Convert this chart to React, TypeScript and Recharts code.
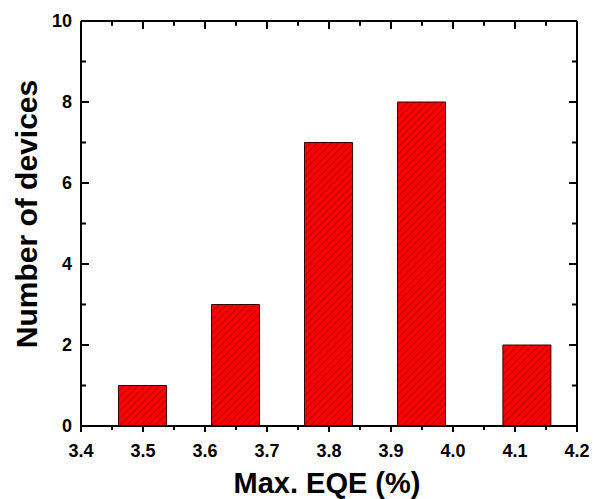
import { BarChart, Bar, XAxis, YAxis, ReferenceLine } from 'recharts';

const eqeValues = [3.5, 3.65, 3.8, 3.95, 4.12];
const deviceCounts = [1, 3, 7, 8, 2];

const xMajorTicks = [3.4, 3.5, 3.6, 3.7, 3.8, 3.9, 4.0, 4.1, 4.2];
const xMinorTicks = [3.45, 3.55, 3.65, 3.75, 3.85, 3.95, 4.05, 4.15];
const yMajorTicks = [0, 2, 4, 6, 8, 10];
const yMinorTicks = [1, 3, 5, 7, 9];

const data = eqeValues.map((eqe, i) => ({ eqe, count: deviceCounts[i] }));
const xTicks = [...xMajorTicks, ...xMinorTicks].sort((a, b) => a - b);
const yTicks = [...yMajorTicks, ...yMinorTicks].sort((a, b) => a - b);

const FONT = "'Liberation Sans', Arial, Helvetica, sans-serif";
const TICK_FONT = 18;

const WIDTH = 595;
const HEIGHT = 499;
const MARGIN = { top: 20, right: 17, bottom: 43, left: 41 };
const X_AXIS_H = 30;
const TOP_AXIS_H = 1;
const Y_MAX = 10;

function BottomTick(props: any) {
  const { x, y, payload } = props;
  const major = xMajorTicks.includes(payload.value);
  const yb = Number(y);
  return (
    <g>
      <line x1={x} x2={x} y1={yb} y2={yb + (major ? 6 : 4)} stroke="#000" strokeWidth={2} />
      {major && (
        <text x={x} y={yb + 31} textAnchor="middle" fontFamily={FONT} fontWeight="bold" fontSize={TICK_FONT} fill="#000">
          {payload.value.toFixed(1)}
        </text>
      )}
    </g>
  );
}

function LeftTick({ x, y, payload }: any) {
  const major = yMajorTicks.includes(payload.value);
  const xl = Number(x);
  return (
    <g>
      <line x1={xl} x2={xl + (major ? 8 : 5)} y1={y} y2={y} stroke="#000" strokeWidth={2} />
      {major && (
        <text x={xl - 9} y={y} dy="0.355em" textAnchor="end" fontFamily={FONT} fontWeight="bold" fontSize={TICK_FONT} fill="#000">
          {payload.value}
        </text>
      )}
    </g>
  );
}

function RightTick({ x, y, payload }: any) {
  const major = yMajorTicks.includes(payload.value);
  const xr = Number(x);
  return <line x1={xr} x2={xr - (major ? 8 : 5)} y1={y} y2={y} stroke="#000" strokeWidth={2} />;
}

const axisLine = { stroke: '#000', strokeWidth: 2 };

export default function App() {
  return (
    <div style={{ position: 'absolute', left: 0, top: 0, width: WIDTH, height: HEIGHT, overflow: 'hidden', background: '#fff', fontFamily: FONT }}>
      <BarChart width={WIDTH} height={HEIGHT} data={data} margin={MARGIN}>
        <defs>
          <pattern id="hatch" patternUnits="userSpaceOnUse" width="5" height="5" patternTransform="rotate(45)">
            <rect x="0" y="0" width="5" height="5" fill="#ff0000" />
            <line x1="0.5" y1="0" x2="0.5" y2="5" stroke="#b00000" strokeWidth="0.9" />
          </pattern>
        </defs>
        <XAxis
          xAxisId="bottom"
          dataKey="eqe"
          type="number"
          orientation="bottom"
          domain={[3.4, 4.2]}
          allowDataOverflow
          ticks={xTicks}
          interval={0}
          height={X_AXIS_H}
          tickSize={0}
          tickMargin={0}
          tickLine={false}
          axisLine={axisLine}
          tick={<BottomTick />}
        />
        <XAxis
          xAxisId="top"
          type="number"
          orientation="top"
          domain={[3.4, 4.2]}
          allowDataOverflow
          height={TOP_AXIS_H}
          tickLine={false}
          axisLine={axisLine}
          tick={false}
        />
        <YAxis
          yAxisId="left"
          type="number"
          orientation="left"
          domain={[0, Y_MAX]}
          allowDataOverflow
          ticks={yTicks}
          interval={0}
          width={40}
          tickSize={0}
          tickMargin={0}
          tickLine={false}
          axisLine={axisLine}
          tick={<LeftTick />}
        />
        <YAxis
          yAxisId="right"
          type="number"
          orientation="right"
          domain={[0, Y_MAX]}
          allowDataOverflow
          ticks={yTicks}
          interval={0}
          width={1}
          tickSize={0}
          tickMargin={0}
          tickLine={false}
          axisLine={axisLine}
          tick={<RightTick />}
        />
        <Bar
          xAxisId="bottom"
          yAxisId="left"
          dataKey="count"
          barSize={48}
          fill="url(#hatch)"
          stroke="#3a0000"
          strokeWidth={1}
          isAnimationActive={false}
        />
        {/* inward ticks on the top frame */}
        {xTicks.map((v) => (
          <ReferenceLine
            key={v}
            xAxisId="bottom"
            yAxisId="left"
            segment={[
              { x: v, y: Y_MAX },
              { x: v, y: Y_MAX - (xMajorTicks.includes(v) ? 0.2 : 0.12) },
            ]}
            stroke="#000"
            strokeWidth={2}
            ifOverflow="visible"
          />
        ))}
      </BarChart>
      <div
        style={{
          position: 'absolute',
          left: 27,
          top: 214,
          transform: 'translate(-50%, -50%) rotate(-90deg)',
          whiteSpace: 'nowrap',
          fontSize: 30,
          fontWeight: 'bold',
          lineHeight: '30px',
          color: '#000',
        }}
      >
        Number of devices
      </div>
      <div
        style={{
          position: 'absolute',
          left: 327,
          top: 469,
          transform: 'translateX(-50%)',
          whiteSpace: 'nowrap',
          fontSize: 29,
          fontWeight: 'bold',
          lineHeight: '29px',
          color: '#000',
        }}
      >
        Max. EQE (%)
      </div>
    </div>
  );
}
